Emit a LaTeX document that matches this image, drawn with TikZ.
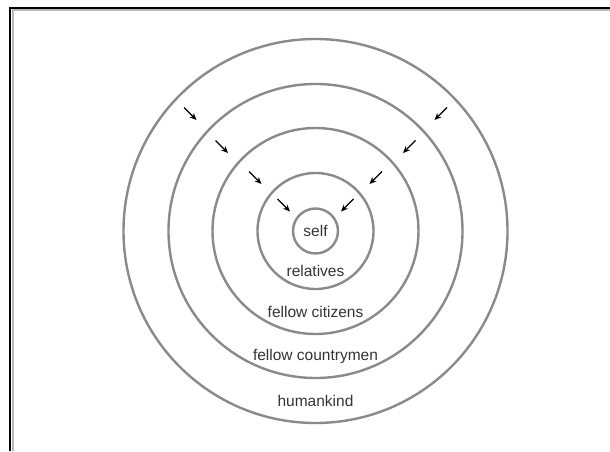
\documentclass[tikz,border=0pt]{standalone}
\usepackage{fontspec}
\setmainfont{Liberation Sans}
\usetikzlibrary{arrows.meta,calc}
\definecolor{ringgray}{HTML}{8A8A8A}
\definecolor{txt}{HTML}{333333}
\tikzset{
  ring/.style={circle, draw=ringgray, line width=2.4pt, inner sep=0pt},
  lbl/.style={font=\fontsize{15.5}{17}\selectfont, text=txt, inner sep=1pt},
  inarrow/.style={-{Stealth[length=7pt,width=6pt]}, line width=1.2pt, black},
}
\begin{document}
\begin{tikzpicture}[x=1pt,y=1pt]
\useasboundingbox (0,0) rectangle (610,451);
% frame (top and left edges)
\draw[gray!55, line width=2pt] (12.5,0) -- (12.5,440.5) -- (610,440.5);
\draw[black, line width=1.6pt] (10,0) -- (10,443) -- (610,443);
\coordinate (C) at (315.5,220);
% rings
\node[ring, minimum size=384pt] (human) at (C) {};
\node[ring, minimum size=294pt] (country) at (C) {};
\node[ring, minimum size=206pt] (citizen) at (C) {};
\node[ring, minimum size=116pt] (rel) at (C) {};
\node[ring, minimum size=45pt, lbl] (self) at (C) {self};
% labels
\node[lbl] (lrel) at ($(C)+(0,-40)$) {relatives};
\node[lbl] (lcit) at ($(C)+(0,-80.5)$) {fellow citizens};
\node[lbl] (lcou) at ($(C)+(0,-125)$) {fellow countrymen};
\node[lbl] (lhum) at ($(C)+(0,-169.5)$) {humankind};
% arrows
\foreach \i/\dx/\dy in {1/31.5/25.5, 2/60/53, 3/93.5/84, 4/125/117}{
  \coordinate (ls\i) at ($(C)+(-\dx,\dy)+(-6.5,6.5)$);
  \coordinate (le\i) at ($(C)+(-\dx,\dy)+(6,-6)$);
  \coordinate (rs\i) at ($(C)+(\dx,\dy)+(6.5,6.5)$);
  \coordinate (re\i) at ($(C)+(\dx,\dy)+(-6,-6)$);
  \draw[inarrow] (ls\i) -- (le\i);
  \draw[inarrow] (rs\i) -- (re\i);
}
\end{tikzpicture}
\end{document}
